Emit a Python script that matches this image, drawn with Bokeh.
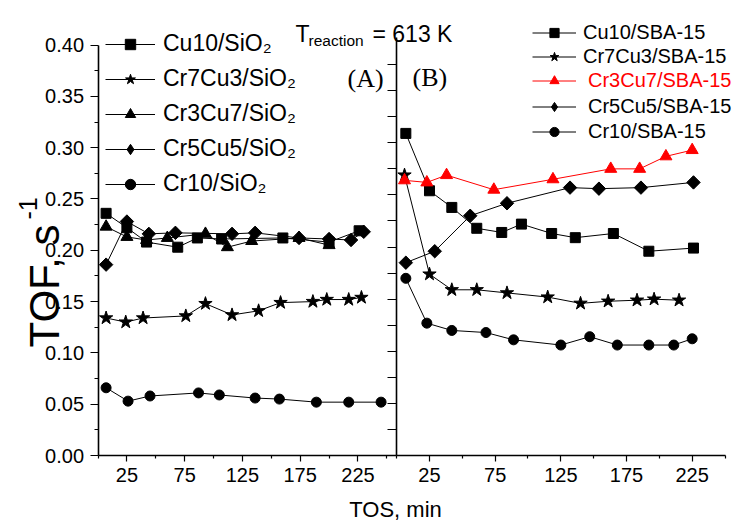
import numpy as np
from bokeh.plotting import figure
from bokeh.models import (Range1d, LinearAxis, FixedTicker, NumeralTickFormatter,
                          Label, Legend, LegendItem)
from bokeh.embed import file_html
from bokeh.resources import INLINE

# ---------------- data: TOF (s^-1) vs time on stream (min) ----------------
# (A) SiO2-supported catalysts
sio2_names = ["Cu10/SiO₂", "Cr7Cu3/SiO₂", "Cr3Cu7/SiO₂", "Cr5Cu5/SiO₂", "Cr10/SiO₂"]
cu10_sio2_t = [7, 25, 42, 69, 86, 107, 160, 200, 226]
cu10_sio2_tof = [0.236, 0.222, 0.208, 0.203, 0.212, 0.211, 0.212, 0.208, 0.219]
cr7cu3_sio2_t = [7, 24, 39, 76, 93, 116, 139, 158, 186, 198, 217, 228]
cr7cu3_sio2_tof = [0.134, 0.130, 0.134, 0.136, 0.148, 0.137, 0.141, 0.149, 0.150, 0.152, 0.152, 0.154]
cr3cu7_sio2_t = [7, 25, 42, 60, 93, 112, 133, 174, 200]
cr3cu7_sio2_tof = [0.223, 0.213, 0.210, 0.212, 0.216, 0.203, 0.209, 0.212, 0.205]
cr5cu5_sio2_t = [7, 25, 44, 67, 116, 136, 174, 200, 219, 230]
cr5cu5_sio2_tof = [0.186, 0.228, 0.216, 0.217, 0.216, 0.217, 0.212, 0.211, 0.210, 0.218]
cr10_sio2_t = [7, 26, 45, 87, 105, 136, 157, 189, 217, 245]
cr10_sio2_tof = [0.066, 0.053, 0.058, 0.061, 0.059, 0.056, 0.055, 0.052, 0.052, 0.052]

# (B) SBA-15-supported catalysts
sba_names = ["Cu10/SBA-15", "Cr7Cu3/SBA-15", "Cr3Cu7/SBA-15", "Cr5Cu5/SBA-15", "Cr10/SBA-15"]
cu10_sba_t = [7, 25, 42, 61, 80, 95, 118, 136, 165, 192, 226]
cu10_sba_tof = [0.309, 0.254, 0.238, 0.218, 0.214, 0.222, 0.213, 0.209, 0.213, 0.196, 0.199]
cr7cu3_sba_t = [6, 25, 42, 61, 84, 115, 140, 161, 183, 196, 215]
cr7cu3_sba_tof = [0.269, 0.174, 0.159, 0.159, 0.156, 0.152, 0.146, 0.148, 0.149, 0.150, 0.149]
cr3cu7_sba_t = [6, 23, 38, 74, 119, 163, 185, 205, 225]
cr3cu7_sba_tof = [0.264, 0.262, 0.269, 0.255, 0.265, 0.275, 0.275, 0.287, 0.293]
cr5cu5_sba_t = [7, 29, 56, 84, 132, 154, 186, 226]
cr5cu5_sba_tof = [0.185, 0.196, 0.230, 0.242, 0.257, 0.256, 0.257, 0.262]
cr10_sba_t = [7, 23, 42, 68, 89, 125, 147, 168, 192, 211, 225]
cr10_sba_tof = [0.170, 0.127, 0.120, 0.118, 0.111, 0.106, 0.114, 0.106, 0.106, 0.106, 0.112]

x_tick_labels = [25, 75, 125, 175, 225]
x_minor = [0, 50, 100, 150, 200, 250]
y_ticks = [0.00, 0.05, 0.10, 0.15, 0.20, 0.25, 0.30, 0.35, 0.40]
y_minor = [0.025, 0.075, 0.125, 0.175, 0.225, 0.275, 0.325, 0.375]
y_ticks_b = [0.025 * i for i in range(1, 16)]

FONT = "Liberation Sans"
SERIF = "Liberation Serif"
W, H = 737, 525

# The plot frame fills the whole canvas; both panels are laid out through
# their own ranges and every axis is pinned with fixed_location.
p = figure(width=W, height=H, output_backend="svg", toolbar_location=None,
           x_range=Range1d(-84.4, 553.5), y_range=Range1d(-0.0682, 0.4434),
           x_axis_type=None, y_axis_type=None,
           min_border=0, min_border_left=0, min_border_right=0,
           min_border_top=0, min_border_bottom=0)
p.outline_line_color = None
p.background_fill_color = "white"
p.extra_x_ranges = {"B": Range1d(-301.6, 259.5)}
p.extra_y_ranges = {"B": Range1d(-0.0671, 0.4365)}


def style_axis(ax, major_out, minor_out, size="20px"):
    ax.axis_line_color = "black"
    ax.axis_line_width = 1.6
    ax.major_tick_line_color = "black"
    ax.major_tick_line_width = 1.2
    ax.minor_tick_line_color = "black"
    ax.minor_tick_line_width = 1.2
    ax.major_tick_in = 0
    ax.major_tick_out = major_out
    ax.minor_tick_in = 0
    ax.minor_tick_out = minor_out
    ax.major_label_text_font = FONT
    ax.major_label_text_font_size = size
    ax.major_label_text_color = "black"


# x axes of both panels share one baseline (TOF = 0)
xa = LinearAxis(fixed_location=0, bounds=(0, 258.1),
                ticker=FixedTicker(ticks=x_tick_labels, minor_ticks=x_minor))
style_axis(xa, 6, 3)
xa.major_label_standoff = 6
p.add_layout(xa, "below")

xb = LinearAxis(x_range_name="B", fixed_location=0, bounds=(0, 250),
                ticker=FixedTicker(ticks=x_tick_labels, minor_ticks=x_minor))
style_axis(xb, 6, 3)
xb.major_label_standoff = 6
p.add_layout(xb, "below")

ya = LinearAxis(fixed_location=0, bounds=(0, 0.40),
                formatter=NumeralTickFormatter(format="0.00"),
                ticker=FixedTicker(ticks=y_ticks, minor_ticks=y_minor))
style_axis(ya, 8, 4)
ya.major_label_standoff = 6
p.add_layout(ya, "left")

yb = LinearAxis(x_range_name="B", y_range_name="B", fixed_location=0,
                bounds=(0, 0.401),
                ticker=FixedTicker(ticks=y_ticks_b, minor_ticks=[]))
style_axis(yb, 9, 0, size="0px")
yb.major_label_text_color = None
p.add_layout(yb, "left")


def series(t, v, marker, size, color="black", panel=None):
    kw = {}
    if panel:
        kw = dict(x_range_name=panel, y_range_name=panel)
    ln = p.line(t, v, line_color=color, line_width=1, **kw)
    if marker == "diamond":
        # square turned by 45 degrees; the inner "diamond" marker sits inside it
        # and provides the legend swatch
        p.scatter(t, v, marker="square", size=size, angle=np.pi / 4,
                  fill_color=color, line_color=color, **kw)
        sc = p.scatter(t, v, marker="diamond", size=size * 1.15,
                       fill_color=color, line_color=color, **kw)
    else:
        sc = p.scatter(t, v, marker=marker, size=size, fill_color=color,
                       line_color=color, **kw)
    return [ln, sc]


a_rs = [
    series(cu10_sio2_t, cu10_sio2_tof, "square", 10),
    series(cr7cu3_sio2_t, cr7cu3_sio2_tof, "star", 14),
    series(cr3cu7_sio2_t, cr3cu7_sio2_tof, "triangle", 12),
    series(cr5cu5_sio2_t, cr5cu5_sio2_tof, "diamond", 9.5),
    series(cr10_sio2_t, cr10_sio2_tof, "circle", 10),
]
b_rs = [
    series(cu10_sba_t, cu10_sba_tof, "square", 10, panel="B"),
    series(cr7cu3_sba_t, cr7cu3_sba_tof, "star", 14, panel="B"),
    series(cr3cu7_sba_t, cr3cu7_sba_tof, "triangle", 12, color="red", panel="B"),
    series(cr5cu5_sba_t, cr5cu5_sba_tof, "diamond", 9.5, panel="B"),
    series(cr10_sba_t, cr10_sba_tof, "circle", 10, panel="B"),
]


def make_legend(names, rs, loc, gw, gh, spacing, standoff, size, color="black"):
    lg = Legend(items=[LegendItem(label=n, renderers=r) for n, r in zip(names, rs)],
                location=loc, glyph_width=gw, glyph_height=gh, label_height=gh,
                spacing=spacing, label_standoff=standoff, padding=0, margin=0,
                border_line_color=None, background_fill_alpha=0,
                label_text_font=FONT, label_text_font_size=size,
                label_text_color=color)
    p.add_layout(lg, "center")


make_legend(sio2_names, a_rs, (105, 328), 50, 26, 8, 8, "23px")
make_legend(sba_names[:2], b_rs[:2], (532, 457.5), 44, 23, 1, 7, "20px")
make_legend(sba_names[2:3], b_rs[2:3], (532, 433.5), 44, 23, 0, 12, "20px", color="red")
make_legend(sba_names[3:], b_rs[3:], (532, 382.5), 44, 23, 2, 12, "20px")


# texts, placed in canvas pixels (origin at the bottom-left corner)
def canvas_label(text, cx, cy, size, font=FONT, color="black", align="left", angle=0.0):
    p.add_layout(Label(x=cx, y=H - cy, x_units="screen", y_units="screen",
                       text=text, text_font=font, text_font_size=size,
                       text_color=color, text_align=align,
                       text_baseline="alphabetic", angle=angle))


canvas_label("T", 295, 33, "23px")
canvas_label("reaction", 308, 39.5, "15.5px")
canvas_label("= 613 K", 372, 33, "23px")
canvas_label("(A)", 347, 77.5, "26px", font=SERIF)
canvas_label("(B)", 412, 76.5, "26px", font=SERIF)
canvas_label("TOS, min", 395, 509, "22px", align="center")
canvas_label("TOF, s", 44, 347, "42px", angle=np.pi / 2)
canvas_label("-1", 27, 219, "25px", angle=np.pi / 2)

open("out.html", "w").write(file_html(p, INLINE))
